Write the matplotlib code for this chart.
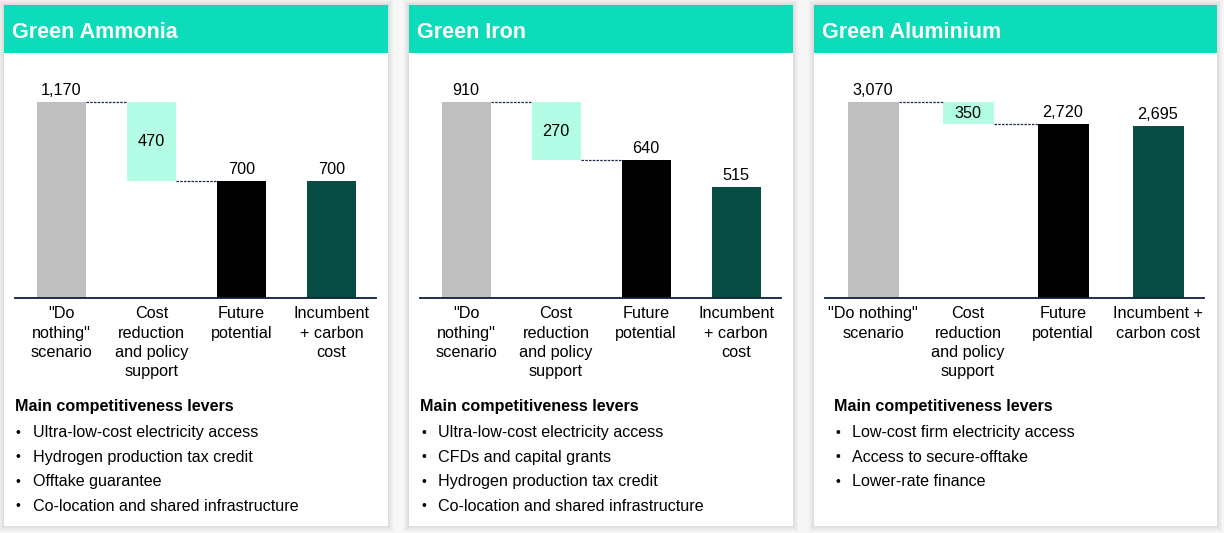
import matplotlib.pyplot as plt
from matplotlib.patches import Rectangle

plt.rcParams['font.family'] = ['Liberation Sans', 'DejaVu Sans']

W, H = 1224, 533

# data
titles = ['Green Ammonia', 'Green Iron', 'Green Aluminium']
do_nothing = [1170, 910, 3070]
reduction = [470, 270, 350]
future = [700, 640, 2720]
incumbent = [700, 515, 2695]
labels_narrow = ['"Do\nnothing"\nscenario', 'Cost\nreduction\nand policy\nsupport',
                 'Future\npotential', 'Incumbent\n+ carbon\ncost']
labels_wide = ['"Do nothing"\nscenario', 'Cost\nreduction\nand policy\nsupport',
               'Future\npotential', 'Incumbent +\ncarbon cost']
levers = [
    ['Ultra-low-cost electricity access', 'Hydrogen production tax credit',
     'Offtake guarantee', 'Co-location and shared infrastructure'],
    ['Ultra-low-cost electricity access', 'CFDs and capital grants',
     'Hydrogen production tax credit', 'Co-location and shared infrastructure'],
    ['Low-cost firm electricity access', 'Access to secure-offtake',
     'Lower-rate finance'],
]

# layout in pixels: panel x0, x1, axes left, axes right, first bar centre, spacing, bar width, text x
layout = [
    (4, 388, 15, 376, 61.5, 90, 49, 15),
    (409, 793, 420, 781, 466, 90, 49, 420),
    (814, 1217, 825, 1204, 873, 95, 51, 834),
]

c_gray = '#bfbfbf'
c_mint = '#b3fce6'
c_black = '#000000'
c_dark = '#084d43'
c_head = '#0ddcba'
c_line = '#1b2a4a'


def fx(x):
    return x / W


def fy(y):
    return 1 - y / H


fig = plt.figure(figsize=(W / 100, H / 100), dpi=100, facecolor='#f7f7f7')

for i in range(3):
    x0, x1, al, ar, c0, sp, bw, tx = layout[i]
    # soft shadow + panel
    for k, a in [(6, 0.012), (5, 0.014), (4, 0.016), (3, 0.018), (2, 0.02), (1, 0.022)]:
        fig.patches.append(Rectangle((fx(x0 - k), fy(526 + k)), (x1 - x0 + 2 * k) / W,
                                     (521 + 2 * k) / H, transform=fig.transFigure,
                                     facecolor='black', alpha=a, edgecolor='none', zorder=0))
    fig.patches.append(Rectangle((fx(x0), fy(526)), (x1 - x0) / W, 521 / H,
                                 transform=fig.transFigure, facecolor='white',
                                 edgecolor='none', zorder=1))
    fig.patches.append(Rectangle((fx(x0), fy(53)), (x1 - x0) / W, 48 / H,
                                 transform=fig.transFigure, facecolor=c_head,
                                 edgecolor='none', zorder=2))
    fig.text(fx(x0 + 8), fy(32.5), titles[i], color='white', fontsize=15.5,
             fontweight='bold', va='center', ha='left', zorder=3)

    # chart axes
    ax_top, ax_bot = 60, 298
    ax = fig.add_axes([fx(al), fy(ax_bot), (ar - al) / W, (ax_bot - ax_top) / H])
    ax.set_zorder(5)
    ax.set_facecolor('none')
    first = do_nothing[i]
    ax.set_ylim(0, first * (ax_bot - ax_top) / 196)
    ax.set_xlim(-(c0 - al) / sp, (ar - c0) / sp)
    w = bw / sp
    xs = [0, 1, 2, 3]
    ax.bar(xs[0], first, width=w, color=c_gray)
    ax.bar(xs[1], reduction[i], bottom=future[i], width=w, color=c_mint)
    ax.bar(xs[2], future[i], width=w, color=c_black)
    ax.bar(xs[3], incumbent[i], width=w, color=c_dark)

    # connectors
    ax.plot([xs[0] + w / 2, xs[1] - w / 2], [first, first], color=c_line,
            lw=0.9, ls=(0, (2, 1)))
    ax.plot([xs[1] + w / 2, xs[2] - w / 2], [future[i], future[i]], color=c_line,
            lw=0.9, ls=(0, (2, 1)))

    # value labels
    for x, v in [(xs[0], first), (xs[2], future[i]), (xs[3], incumbent[i])]:
        ax.annotate(f'{v:,}', (x, v), xytext=(0, 3), textcoords='offset points',
                    ha='center', va='bottom', fontsize=11.7)
    ax.text(xs[1], future[i] + reduction[i] / 2, f'{reduction[i]:,}',
            ha='center', va='center', fontsize=11.7)

    for s in ['top', 'right', 'left']:
        ax.spines[s].set_visible(False)
    ax.spines['bottom'].set_color('#0d1f3c')
    ax.spines['bottom'].set_linewidth(1.3)
    ax.set_yticks([])
    ax.set_xticks(xs)
    ax.set_xticklabels(labels_wide if i == 2 else labels_narrow, fontsize=11.7,
                       linespacing=1.36)
    ax.tick_params(axis='x', length=0, pad=6)

    # levers
    fig.text(fx(tx), fy(407), 'Main competitiveness levers', fontsize=11.6,
             fontweight='bold', va='center', ha='left', zorder=3)
    for j, t in enumerate(levers[i]):
        yy = 432.5 + j * 24.6
        fig.text(fx(tx + 1), fy(yy), '\u2022', fontsize=10, va='center', ha='left', zorder=3)
        fig.text(fx(tx + 18), fy(yy), t, fontsize=11.6, va='center', ha='left', zorder=3)

fig.savefig('out.png', dpi=100, facecolor=fig.get_facecolor())
